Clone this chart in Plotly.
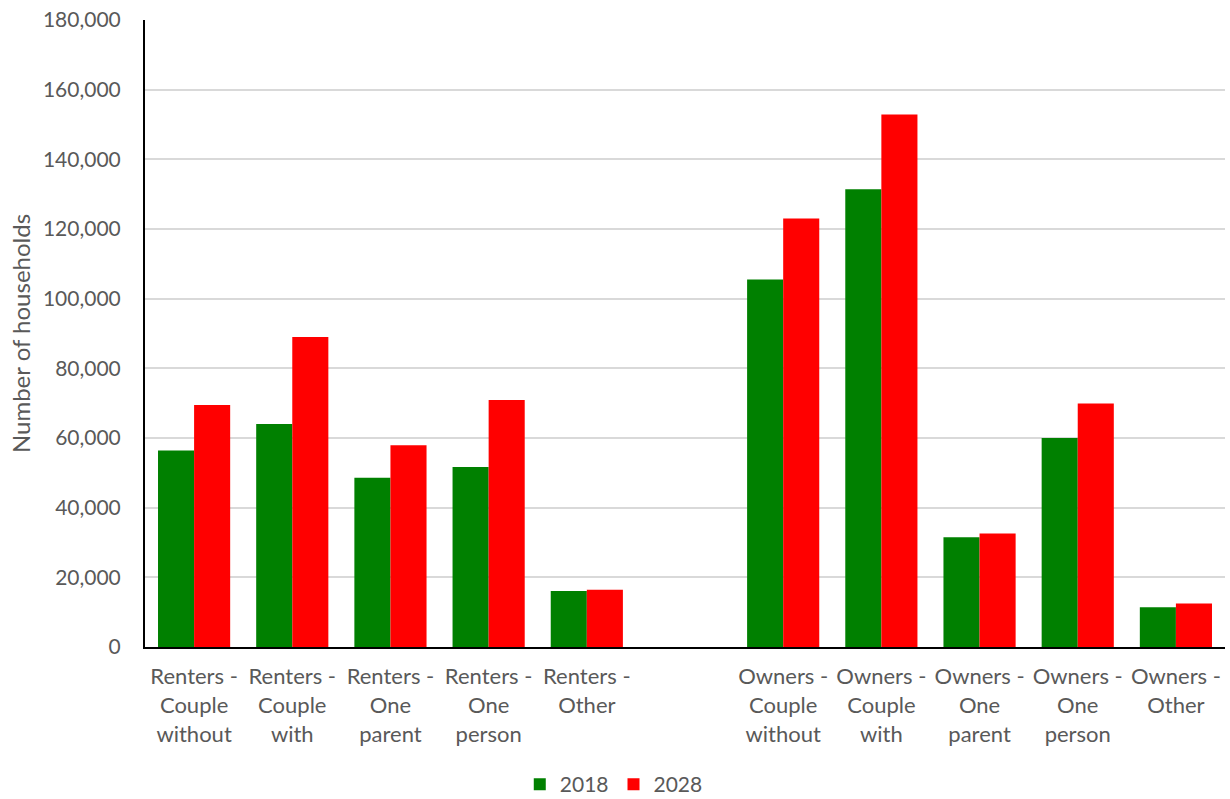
import plotly.graph_objects as go

# Household types, with an empty slot separating renters from owners
categories = [
    "Renters -<br>Couple<br>without",
    "Renters -<br>Couple<br>with",
    "Renters -<br>One<br>parent",
    "Renters -<br>One<br>person",
    "Renters -<br>Other",
    " ",
    "Owners -<br>Couple<br>without",
    "Owners -<br>Couple<br>with",
    "Owners -<br>One<br>parent",
    "Owners -<br>One<br>person",
    "Owners -<br>Other",
]

households_2018 = [56400, 64000, 48600, 51700, 16100, None,
                   105500, 131400, 31500, 60000, 11400]
households_2028 = [69500, 89000, 57900, 70900, 16400, None,
                   123000, 152900, 32600, 69900, 12500]

FONT = "Lato, 'Open Sans', sans-serif"
TEXT_COLOR = "#595959"

fig = go.Figure()
fig.add_trace(go.Bar(name="2018", x=categories, y=households_2018,
                     marker=dict(color="#008000", line=dict(width=0))))
fig.add_trace(go.Bar(name="2028", x=categories, y=households_2028,
                     marker=dict(color="#ff0000", line=dict(width=0))))

fig.update_layout(
    width=1230, height=799,
    margin=dict(l=145, r=5, t=20, b=152),
    paper_bgcolor="white", plot_bgcolor="white",
    barmode="group", bargap=0.265, bargroupgap=0,
    font=dict(family=FONT, size=21, color=TEXT_COLOR),
    showlegend=True,
    legend=dict(orientation="h", xref="container", x=0.499, xanchor="center",
                yref="container", y=0.018, yanchor="middle",
                font=dict(size=21, color=TEXT_COLOR),
                itemwidth=30, traceorder="normal"),
    xaxis=dict(type="category", showline=True, linecolor="black", linewidth=2,
               ticks="", showgrid=False, tickangle=0, ticklabelstandoff=9,
               tickfont=dict(size=22, color=TEXT_COLOR)),
    yaxis=dict(range=[0, 180000], dtick=20000, tickformat=",",
               showline=True, linecolor="black", linewidth=2,
               showgrid=True, gridcolor="#d9d9d9", gridwidth=1.5,
               zeroline=False, ticks="", ticklabelstandoff=18,
               tickfont=dict(size=21, color=TEXT_COLOR),
               title=dict(text="Number of households", standoff=6,
                          font=dict(size=24, color=TEXT_COLOR))),
)

fig.write_html("out.html")
